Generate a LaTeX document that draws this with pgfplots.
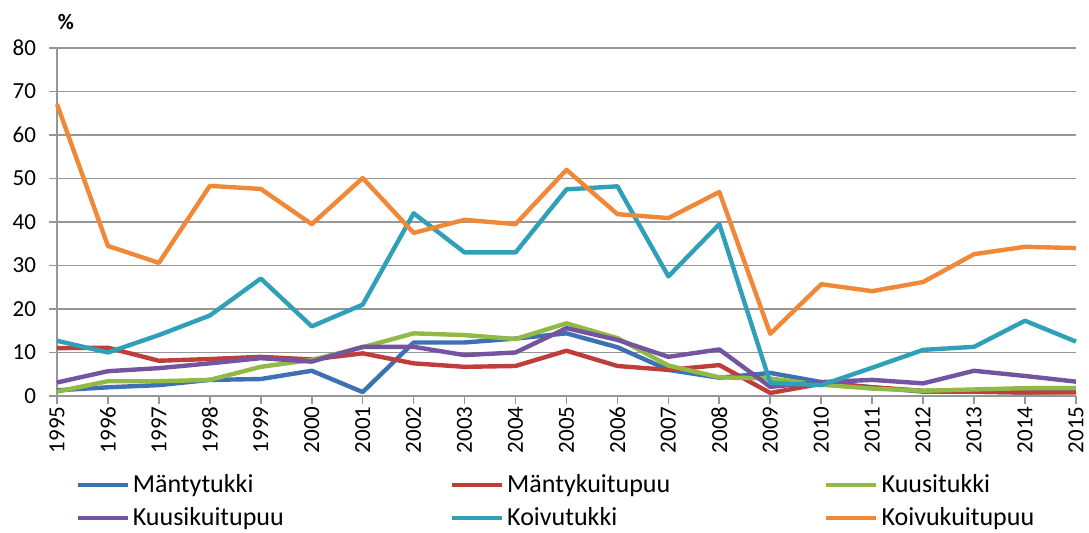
\documentclass[border=0pt]{standalone}
\usepackage{pgfplots}
\pgfplotsset{compat=1.18}
\usepackage{fontspec}
\setmainfont{Carlito}
\definecolor{cBlue}{RGB}{62,112,180}
\definecolor{cRed}{RGB}{192,62,58}
\definecolor{cGreen}{RGB}{145,185,70}
\definecolor{cPurple}{RGB}{116,84,160}
\definecolor{cTeal}{RGB}{48,160,184}
\definecolor{cOrange}{RGB}{240,136,55}
\definecolor{cGrid}{RGB}{150,150,150}
\begin{document}
\begin{tikzpicture}
\path[use as bounding box] (-28.5pt,-68.5pt) rectangle (516pt,198pt);
\begin{axis}[
  at={(0,0)}, anchor=south west,
  scale only axis, width=509.5pt, height=174pt,
  xmin=1995, xmax=2015, ymin=0, ymax=80,
  xtick={1995,...,2015}, ytick={0,10,...,80},
  axis x line=bottom, axis y line=left,
  axis line style={-, draw=cGrid, line width=0.8pt},
  ymajorgrids, grid style={draw=cGrid, line width=0.7pt},
  tick align=outside, major tick length=4pt,
  tick style={draw=cGrid, line width=0.8pt},
  /pgf/number format/1000 sep={},
  /pgf/number format/assume math mode=true,
  ticklabel style={font=\fontsize{11.5}{13}\selectfont, text=black},
  xticklabel style={rotate=90, anchor=east, inner sep=1pt},
  yticklabel style={anchor=east, xshift=-3pt},
  clip=false,
  legend columns=3,
  legend style={at={(axis description cs:0.0177,-0.215)}, anchor=north west,
    draw=none, fill=none, inner sep=0pt,
    font=\fontsize{13}{15}\selectfont,
    row sep=3pt,
    nodes={inner sep=1.5pt}},
  legend cell align=left,
  legend image code/.code={\draw[#1] (0pt,0pt) -- (25pt,0pt);},
  every axis plot/.append style={line width=2.2pt, line join=round, no markers},
]
\addplot[cBlue] coordinates {(1995,1.3)(1996,2.0)(1997,2.5)(1998,3.7)(1999,3.9)(2000,5.8)(2001,0.9)(2002,12.3)(2003,12.3)(2004,13.2)(2005,14.4)(2006,11.2)(2007,6.0)(2008,4.2)(2009,5.3)(2010,3.2)(2011,2.0)(2012,1.0)(2013,1.0)(2014,0.8)(2015,1.0)};
\addlegendentry{\makebox[157pt][l]{Mäntytukki}}
\addplot[cRed] coordinates {(1995,11.0)(1996,11.1)(1997,8.1)(1998,8.5)(1999,9.0)(2000,8.4)(2001,9.8)(2002,7.5)(2003,6.7)(2004,6.9)(2005,10.4)(2006,6.9)(2007,6.0)(2008,7.1)(2009,0.7)(2010,2.8)(2011,2.0)(2012,1.2)(2013,1.0)(2014,0.8)(2015,0.8)};
\addlegendentry{\makebox[157pt][l]{Mäntykuitupuu}}
\addplot[cGreen] coordinates {(1995,1.0)(1996,3.4)(1997,3.4)(1998,3.7)(1999,6.7)(2000,8.3)(2001,11.2)(2002,14.4)(2003,14.0)(2004,13.1)(2005,16.7)(2006,13.3)(2007,7.0)(2008,4.3)(2009,4.0)(2010,2.6)(2011,1.7)(2012,1.2)(2013,1.5)(2014,1.8)(2015,1.8)};
\addlegendentry{\makebox[157pt][l]{Kuusitukki}}
\addplot[cPurple] coordinates {(1995,3.1)(1996,5.7)(1997,6.4)(1998,7.5)(1999,8.7)(2000,7.9)(2001,11.3)(2002,11.3)(2003,9.4)(2004,10.0)(2005,15.6)(2006,12.9)(2007,9.0)(2008,10.7)(2009,2.1)(2010,3.2)(2011,3.7)(2012,2.9)(2013,5.8)(2014,4.6)(2015,3.3)};
\addlegendentry{\makebox[157pt][l]{Kuusikuitupuu}}
\addplot[cTeal] coordinates {(1995,12.7)(1996,10.0)(1997,14.0)(1998,18.5)(1999,27.0)(2000,16.0)(2001,21.0)(2002,42.0)(2003,33.0)(2004,33.0)(2005,47.5)(2006,48.2)(2007,27.5)(2008,39.5)(2009,3.0)(2010,2.5)(2011,6.5)(2012,10.6)(2013,11.3)(2014,17.3)(2015,12.5)};
\addlegendentry{\makebox[157pt][l]{Koivutukki}}
\addplot[cOrange] coordinates {(1995,67.1)(1996,34.5)(1997,30.6)(1998,48.3)(1999,47.6)(2000,39.5)(2001,50.1)(2002,37.5)(2003,40.5)(2004,39.5)(2005,52.0)(2006,41.8)(2007,40.9)(2008,46.9)(2009,14.3)(2010,25.7)(2011,24.1)(2012,26.2)(2013,32.6)(2014,34.3)(2015,34.0)};
\addlegendentry{\makebox[157pt][l]{Koivukuitupuu}}
\end{axis}
\node[font=\bfseries\fontsize{11}{13}\selectfont] at (4.5pt,187pt) {\%};
\end{tikzpicture}
\end{document}
